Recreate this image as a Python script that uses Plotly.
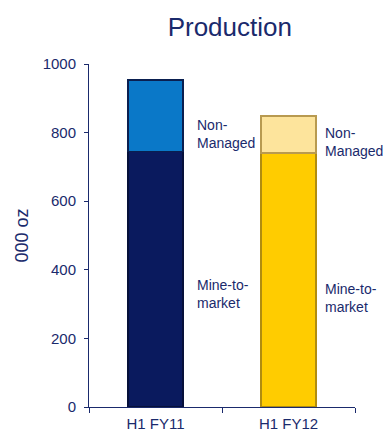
import plotly.graph_objects as go

categories = ["H1 FY11", "H1 FY12"]
mine_to_market = [745, 740]
non_managed = [208, 108]

base_colors = ["#0a1a5e", "#ffcc00"]
base_lines = ["#06103a", "#b08c10"]
top_colors = ["#0a78c8", "#fde49c"]
top_lines = ["#0a1f50", "#b89a50"]

navy = "#1a2a6c"
font_family = "Liberation Sans, Arial, sans-serif"

fig = go.Figure()
fig.add_trace(go.Bar(
    x=categories, y=mine_to_market, name="Mine-to-market",
    marker=dict(color=base_colors, line=dict(color=base_lines, width=1.5)),
    width=0.41,
))
fig.add_trace(go.Bar(
    x=categories, y=non_managed, name="Non-Managed",
    marker=dict(color=top_colors, line=dict(color=top_lines, width=1.5)),
    width=0.41,
))

# segment labels to the right of each bar
label_specs = [
    (0, 0.30, 796, "Non-<br>Managed"),
    (0, 0.30, 329, "Mine-to-<br>market"),
    (1, 0.26, 773, "Non-<br>Managed"),
    (1, 0.26, 318, "Mine-to-<br>market"),
]
for idx, dx, yv, txt in label_specs:
    fig.add_annotation(
        x=idx + dx, y=yv, xref="x", yref="y", text=txt, showarrow=False,
        xanchor="left", yanchor="middle", align="left",
        font=dict(family=font_family, size=14, color=navy),
    )

fig.update_layout(
    barmode="stack",
    width=383, height=432,
    margin=dict(l=89, r=28, t=64, b=25),
    paper_bgcolor="white", plot_bgcolor="white",
    showlegend=False,
    title=dict(text="Production", x=0.6, xanchor="center",
               y=1 - 27 / 432, yanchor="middle",
               font=dict(family=font_family, size=26, color=navy)),
    font=dict(family=font_family, color=navy),
)
fig.update_xaxes(
    range=[-0.5, 1.5], showline=True, linecolor=navy, linewidth=1,
    ticks="outside", tickson="boundaries", ticklen=5, tickcolor=navy,
    tickfont=dict(size=15, color=navy), showgrid=False, automargin=False,
    ticklabelstandoff=3,
)
fig.update_yaxes(
    range=[0, 1000], tickvals=[0, 200, 400, 600, 800, 1000],
    showline=True, linecolor=navy, linewidth=1,
    ticks="outside", ticklen=4, tickcolor=navy, showgrid=False, zeroline=False,
    tickfont=dict(size=15, color=navy), automargin=False, ticklabelstandoff=5,
    title=dict(text="000 oz", font=dict(size=18, color=navy), standoff=9),
)

fig.write_html("out.html")
